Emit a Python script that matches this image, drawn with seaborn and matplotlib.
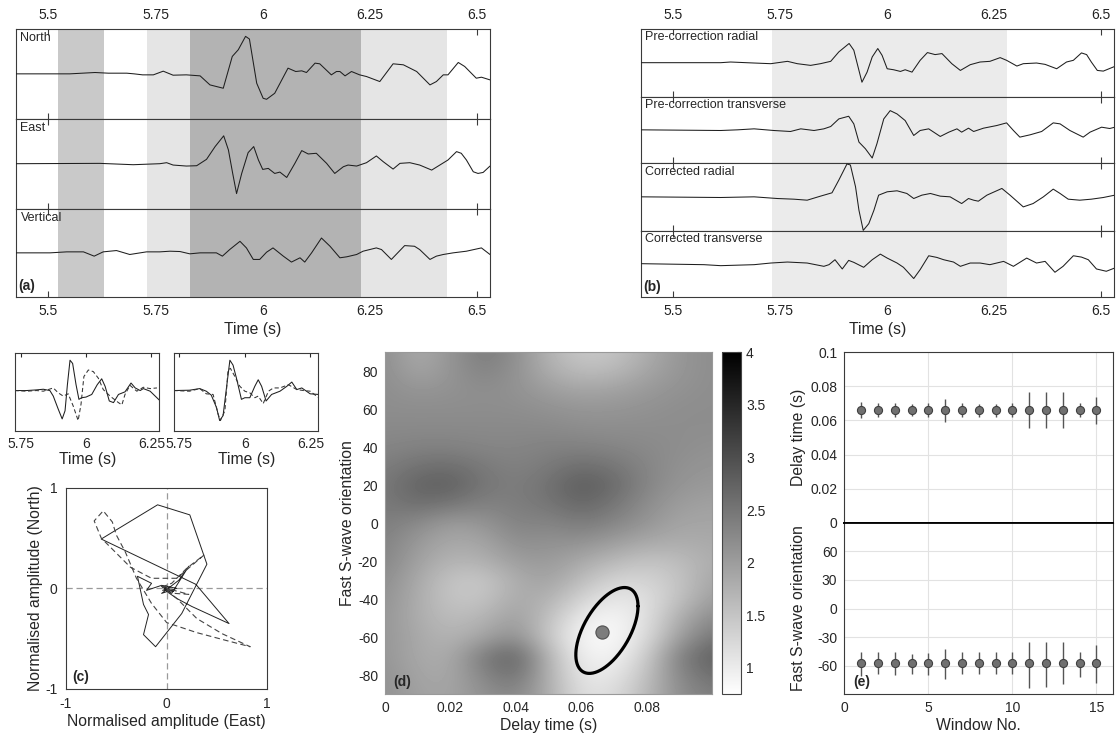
import numpy as np
import matplotlib
matplotlib.use("Agg")
import matplotlib.pyplot as plt
import seaborn as sns

# ------------------------------------------------------------------ data
# (a) three-component traces (time in s, amplitude in arbitrary units)
north_t = [5.424, 5.504, 5.55, 5.609, 5.64, 5.683, 5.70, 5.72, 5.745, 5.768, 5.791, 5.822, 5.854, 5.877, 5.908,
           5.929, 5.943, 5.960, 5.969, 5.986, 6.001, 6.009, 6.028, 6.059, 6.077, 6.091, 6.102, 6.122, 6.133, 6.160,
           6.172, 6.180, 6.192, 6.207, 6.226, 6.242, 6.273, 6.304, 6.328, 6.359, 6.390, 6.405, 6.421, 6.432, 6.456,
           6.471, 6.498, 6.510, 6.530]
north_a = [0, 0, 0, 4, 2, 2, 0, -3, -3, 8, -4, -3, -6, -33, -43, 52, 72, 112, 104, -28, -73, -76, -58, 17, 7, 9, 4,
           32, 30, -3, 7, 7, -6, 7, -3, -8, -23, 30, 27, 7, -33, -23, -3, -3, 34, 22, -13, -10, -18]
east_t = [5.424, 5.620, 5.698, 5.760, 5.776, 5.791, 5.822, 5.846, 5.869, 5.889, 5.909, 5.920, 5.930, 5.939, 5.951,
          5.966, 5.979, 5.990, 6.000, 6.013, 6.028, 6.040, 6.056, 6.075, 6.091, 6.106, 6.125, 6.149, 6.168, 6.188,
          6.199, 6.219, 6.242, 6.265, 6.281, 6.304, 6.320, 6.343, 6.366, 6.394, 6.413, 6.432, 6.452, 6.463, 6.475,
          6.491, 6.502, 6.514, 6.530]
east_a = [0, 1, -3, 0, 3, -4, -7, -6, 13, 51, 83, 41, -29, -89, -29, 33, 51, 11, -17, -14, -29, -25, -41, 1, 39, 29,
          31, 1, -29, -9, -4, -7, 3, 23, 6, -16, 1, 3, -4, -19, -4, 11, 36, 31, 11, -24, -29, -26, -7]
vert_t = [5.424, 5.504, 5.543, 5.582, 5.607, 5.628, 5.659, 5.690, 5.729, 5.760, 5.784, 5.807, 5.830, 5.854, 5.892,
          5.906, 5.923, 5.947, 5.962, 5.978, 5.993, 6.009, 6.024, 6.048, 6.067, 6.087, 6.098, 6.114, 6.137, 6.157,
          6.180, 6.196, 6.219, 6.234, 6.265, 6.277, 6.300, 6.331, 6.354, 6.366, 6.390, 6.405, 6.421, 6.444, 6.475,
          6.510, 6.530]
vert_a = [0, 0, 3, 3, -10, 3, 7, -5, 3, 3, 5, 4, -3, 0, 0, -10, 10, 35, 15, -20, -20, 2, 15, -10, -28, -15, -28, 0,
          45, 20, -15, -12, -5, 5, 15, 10, -20, 22, 20, 10, -20, -10, -5, 0, 5, 15, -5]

# window ranges shaded in (a) and (b)
a_win_start = [5.523, 5.730, 5.830, 6.230]
a_win_end = [5.630, 5.830, 6.230, 6.430]
b_win_start = [5.731]
b_win_end = [6.279]

# (b) radial / transverse traces before and after correction
prer_t = [5.426, 5.533, 5.611, 5.634, 5.689, 5.728, 5.767, 5.790, 5.821, 5.844, 5.868, 5.887, 5.911, 5.922, 5.931,
          5.941, 5.953, 5.965, 5.978, 5.988, 6.000, 6.015, 6.031, 6.042, 6.058, 6.077, 6.094, 6.112, 6.128, 6.151,
          6.171, 6.194, 6.217, 6.240, 6.264, 6.279, 6.303, 6.318, 6.349, 6.369, 6.396, 6.419, 6.435, 6.454, 6.466,
          6.477, 6.491, 6.505, 6.532]
prer_a = [0, 0, 0, 2, -1, -3, 4, -3, -8, -3, 4, 32, 57, 37, -8, -58, -28, 17, 42, 22, -18, -21, -26, -21, -28, 7, 30,
          24, 27, -3, -23, -6, 2, 4, 15, 7, -10, -3, -1, -5, -18, 2, 7, 29, 24, 2, -23, -25, -11]
pret_t = [5.426, 5.611, 5.650, 5.689, 5.735, 5.774, 5.798, 5.829, 5.852, 5.868, 5.887, 5.910, 5.922, 5.934, 5.949,
          5.965, 5.976, 5.992, 6.007, 6.023, 6.042, 6.062, 6.077, 6.097, 6.124, 6.144, 6.163, 6.174, 6.190, 6.202,
          6.225, 6.256, 6.279, 6.295, 6.310, 6.334, 6.361, 6.388, 6.404, 6.427, 6.458, 6.474, 6.501, 6.520, 6.532]
pret_a = [0, -2, 0, 3, -2, -5, 3, -2, 3, 10, 33, 41, 18, -37, -57, -85, -42, 33, 58, 48, 28, -17, -2, 3, -20, -7, 3,
          -7, 5, -5, 5, 13, 21, -2, -22, -15, -5, 21, 18, -2, -22, -7, 8, 4, 8]
corr_t = [5.426, 5.611, 5.689, 5.743, 5.782, 5.813, 5.844, 5.871, 5.887, 5.906, 5.914, 5.926, 5.934, 5.944, 5.957,
          5.969, 5.980, 6.000, 6.023, 6.046, 6.062, 6.081, 6.101, 6.124, 6.147, 6.174, 6.190, 6.202, 6.213, 6.233,
          6.268, 6.287, 6.318, 6.341, 6.365, 6.388, 6.404, 6.423, 6.450, 6.477, 6.505, 6.532]
corr_a = [0, -2, 0, -5, -7, -10, 2, 12, 50, 98, 95, 30, -40, -100, -80, -40, 5, 15, 18, 10, -5, 5, 10, 2, 0, -20, -5,
          -10, -13, 5, 25, 5, -30, -20, 0, 23, 10, -7, -10, -7, -2, 5]
cort_t = [5.426, 5.572, 5.611, 5.689, 5.728, 5.767, 5.813, 5.852, 5.864, 5.878, 5.895, 5.910, 5.922, 5.945, 5.965,
          5.984, 6.000, 6.023, 6.038, 6.062, 6.077, 6.097, 6.116, 6.132, 6.155, 6.171, 6.194, 6.217, 6.240, 6.272,
          6.295, 6.326, 6.349, 6.369, 6.392, 6.411, 6.435, 6.454, 6.470, 6.489, 6.512, 6.532]
cort_a = [0, -3, -6, -3, 2, 5, 2, -8, -3, 12, -16, 10, 4, -11, 12, 29, 17, 2, -11, -45, -18, 24, 19, 12, 5, -8, 2, 2,
          -3, 7, -8, 17, 2, 7, -26, -8, 24, 20, 12, -16, -23, -13]

# small panels: fast (solid) and slow (dashed) components, before / after correction
sl_t = [5.727, 5.773, 5.811, 5.837, 5.862, 5.875, 5.894, 5.909, 5.920, 5.929, 5.939, 5.949, 5.962, 5.973, 5.983,
        6.000, 6.022, 6.043, 6.060, 6.073, 6.089, 6.105, 6.124, 6.149, 6.172, 6.188, 6.207, 6.219, 6.245, 6.281]
sl_a = [0, 0, 2, 4, 0, -17, -57, -87, -62, 18, 93, 83, 18, -27, -22, -20, -12, 18, 36, 13, -32, -37, -12, -4, 23, 8,
        0, 6, -2, -30]
sld_t = [5.727, 5.773, 5.811, 5.837, 5.875, 5.894, 5.913, 5.932, 5.951, 5.970, 5.981, 5.992, 6.009, 6.028, 6.047,
         6.066, 6.092, 6.124, 6.137, 6.149, 6.168, 6.194, 6.219, 6.245, 6.271]
sld_a = [0, -2, 0, -2, 8, -7, -17, -10, -47, -92, -42, 43, 63, 58, 38, 3, -17, -37, -44, -12, 16, -2, 10, 6, 8]
sr_t = [5.728, 5.789, 5.828, 5.853, 5.872, 5.892, 5.904, 5.917, 5.930, 5.943, 5.955, 5.968, 5.987, 6.000, 6.019,
        6.038, 6.051, 6.064, 6.081, 6.102, 6.134, 6.160, 6.179, 6.198, 6.217, 6.249, 6.281]
sr_a = [0, 1, 6, -2, -14, -52, -92, -77, 8, 93, 78, 38, -27, -22, -22, 13, 33, 13, -32, -12, -2, 13, 26, 3, 8, -10, -12]
srd_t = [5.728, 5.789, 5.828, 5.853, 5.879, 5.898, 5.907, 5.924, 5.936, 5.945, 5.962, 5.981, 6.000, 6.019, 6.038,
         6.051, 6.070, 6.090, 6.109, 6.134, 6.166, 6.198, 6.224, 6.249, 6.281]
srd_a = [0, -2, 6, -10, -12, -72, -92, -62, 63, 68, 43, 13, -2, -7, -22, -17, -40, -2, 8, 8, 18, 3, 0, -2, -22]

# (c) particle motion (normalised East, North)
hodo_pre_e = [0.00, -0.03, 0.02, -0.04, 0.03, 0.00, 0.10, 0.25, 0.62, 0.29, -0.65, -0.09, 0.23, 0.40, 0.15, -0.11,
              -0.23, -0.18, -0.23, -0.29, -0.15, -0.20, -0.05, 0.10, -0.05, 0.12, 0.22, 0.05, -0.02, 0.07, -0.04]
hodo_pre_n = [0.00, 0.02, -0.01, -0.02, 0.01, -0.03, -0.10, -0.18, -0.35, 0.04, 0.49, 0.83, 0.73, 0.24, -0.25, -0.58,
              -0.46, -0.26, -0.16, 0.12, 0.05, -0.02, 0.03, 0.00, -0.05, 0.08, 0.22, -0.05, 0.00, -0.03, 0.01]
hodo_cor_e = [0.00, 0.03, -0.03, 0.05, 0.20, 0.37, 0.10, -0.15, -0.36, -0.51, -0.65, -0.72, -0.63, -0.54, -0.50,
              -0.41, -0.30, -0.15, 0.00, 0.30, 0.60, 0.83, 0.55, 0.30, 0.10, -0.05, 0.08, 0.22, 0.00]
hodo_cor_n = [0.00, -0.02, 0.02, 0.05, 0.20, 0.33, 0.10, 0.10, 0.21, 0.36, 0.50, 0.67, 0.77, 0.66, 0.53, 0.36, 0.10,
              -0.15, -0.34, -0.44, -0.52, -0.58, -0.45, -0.30, -0.10, 0.02, -0.05, -0.06, 0.00]

# (d) misfit surface: rows = orientation 90 .. -90 (step 10), cols = delay 0 .. 0.1 s (step 0.01)
grid_dt = [0.0, 0.01, 0.02, 0.03, 0.04, 0.05, 0.06, 0.07, 0.08, 0.09, 0.10]
grid_phi = [90, 80, 70, 60, 50, 40, 30, 20, 10, 0, -10, -20, -30, -40, -50, -60, -70, -80, -90]
misfit = [
    [2.20, 1.80, 2.10, 2.45, 2.20, 1.70, 1.45, 1.50, 1.80, 2.10, 2.20],
    [2.20, 1.90, 2.10, 2.35, 2.15, 1.80, 1.60, 1.65, 1.90, 2.10, 2.20],
    [2.20, 2.10, 2.15, 2.20, 2.15, 2.00, 1.90, 1.95, 2.05, 2.15, 2.20],
    [2.20, 2.20, 2.20, 2.20, 2.20, 2.15, 2.10, 2.10, 2.15, 2.20, 2.20],
    [2.25, 2.25, 2.25, 2.25, 2.25, 2.25, 2.20, 2.20, 2.20, 2.20, 2.20],
    [2.30, 2.35, 2.35, 2.30, 2.30, 2.35, 2.35, 2.30, 2.25, 2.20, 2.15],
    [2.40, 2.55, 2.60, 2.45, 2.35, 2.45, 2.60, 2.50, 2.30, 2.15, 2.10],
    [2.45, 2.75, 2.80, 2.50, 2.40, 2.55, 2.85, 2.65, 2.30, 2.10, 2.05],
    [2.45, 2.60, 2.50, 2.35, 2.40, 2.50, 2.70, 2.50, 2.20, 2.00, 1.95],
    [2.40, 2.25, 2.00, 2.10, 2.35, 2.30, 2.45, 2.30, 2.10, 1.90, 1.90],
    [2.35, 2.05, 1.85, 1.90, 2.20, 2.15, 2.15, 2.00, 1.85, 1.80, 1.85],
    [2.30, 1.95, 1.70, 1.75, 2.00, 2.05, 1.85, 1.65, 1.50, 1.60, 1.80],
    [2.20, 1.85, 1.50, 1.45, 1.80, 1.95, 1.60, 1.30, 1.30, 1.50, 1.90],
    [2.15, 1.80, 1.50, 1.50, 1.85, 1.75, 1.30, 1.05, 1.15, 1.55, 2.00],
    [2.10, 1.80, 1.60, 1.70, 2.00, 1.55, 1.00, 0.85, 1.15, 1.80, 2.25],
    [2.10, 1.85, 1.70, 1.90, 2.20, 1.45, 0.85, 0.82, 1.20, 2.00, 2.50],
    [2.10, 1.85, 1.80, 2.45, 2.80, 1.70, 0.95, 0.90, 1.40, 2.40, 2.80],
    [2.15, 1.90, 1.85, 2.30, 2.60, 1.75, 1.05, 1.05, 1.55, 2.30, 2.60],
    [2.15, 1.95, 1.90, 2.15, 2.30, 1.80, 1.15, 1.20, 1.65, 2.20, 2.40],
]
best_dt, best_phi = 0.0663, -57.3
# confidence region: centre, half-extents and phase offset of the closed contour
conf_dt, conf_phi = 0.0678, -56.4
conf_half_dt, conf_half_phi, conf_phase = 0.0095, 22.6, 0.97

# (e) results for each analysis window
window_no = [1, 2, 3, 4, 5, 6, 7, 8, 9, 10, 11, 12, 13, 14, 15]
delay = [0.066, 0.066, 0.066, 0.066, 0.066, 0.066, 0.066, 0.066, 0.066, 0.066, 0.066, 0.066, 0.066, 0.066, 0.066]
delay_lo = [0.0613, 0.0620, 0.0620, 0.0626, 0.0620, 0.0593, 0.0620, 0.0620, 0.0620, 0.0620, 0.0554, 0.0554, 0.0554,
            0.0620, 0.0579]
delay_hi = [0.0708, 0.0700, 0.0700, 0.0695, 0.0700, 0.0726, 0.0700, 0.0695, 0.0695, 0.0700, 0.0765, 0.0765, 0.0765,
            0.0700, 0.0738]
fast = [-57.5, -57, -57, -57.5, -57.5, -57.5, -57, -57, -57, -57, -57.5, -57.5, -57, -57.5, -57.5]
fast_lo = [-71, -69, -70, -69, -70, -74, -69, -69, -69, -69, -83, -82.6, -79.4, -71.6, -78]
fast_hi = [-46, -46, -45.5, -47.6, -47, -42.7, -45.5, -46, -45.5, -45.5, -35, -35, -35, -45.5, -38.5]

# ------------------------------------------------------------------ style
sns.set_style("white")
plt.rcParams["font.family"] = ["Liberation Sans", "DejaVu Sans"]
plt.rcParams["axes.unicode_minus"] = False
plt.rcParams["axes.edgecolor"] = "#3a3a3a"
plt.rcParams["axes.linewidth"] = 0.8

W, H = 1117, 736
fig = plt.figure(figsize=(W / 100, H / 100), dpi=100)


def rect(x0, y0, x1, y1):
    return [x0 / W, 1 - y1 / H, (x1 - x0) / W, (y1 - y0) / H]


TRACE = "#1e1e1e"
TICK_FS = 10
LAB_FS = 11.3
TXT_FS = 9
XLIM_TOP = (5.424, 6.53)
XT_TOP = [5.5, 5.75, 6, 6.25, 6.5]
XT_TOP_LAB = ["5.5", "5.75", "6", "6.25", "6.5"]


def trace_axes(box, t, a, label, spans, ylim, first, last):
    ax = fig.add_axes(rect(*box))
    for (s, e, c) in spans:
        ax.axvspan(s, e, color=c, lw=0, zorder=1)
    sns.lineplot(x=t, y=a, ax=ax, color=TRACE, linewidth=0.75, estimator=None, sort=False, zorder=3)
    ax.set_xlim(*XLIM_TOP)
    ax.set_ylim(*ylim)
    ax.set_yticks([])
    ax.set_xticks(XT_TOP)
    ax.set_xticklabels(XT_TOP_LAB)
    ax.set_axisbelow(True)
    ax.tick_params(axis="x", direction="in", length=4, width=0.8, top=True, bottom=True,
                   labeltop=first, labelbottom=last, labelsize=TICK_FS, pad=5, colors="#3a3a3a",
                   labelcolor="#222222")
    ax.text(0.01, 0.965, label, transform=ax.transAxes, ha="left", va="top", fontsize=TXT_FS, zorder=5)
    return ax


# ---- (a)
a_cols = ["#c9c9c9", "#e5e5e5", "#b3b3b3", "#e5e5e5"]
a_spans = list(zip(a_win_start, a_win_end, a_cols))
a_boxes = [(15.7, 29, 490, 118.7), (15.7, 118.7, 490, 208.7), (15.7, 208.7, 490, 297)]
a_traces = [(north_t, north_a, "North"), (east_t, east_a, "East"), (vert_t, vert_a, "Vertical")]
for i, (box, (t, a, lab)) in enumerate(zip(a_boxes, a_traces)):
    ax = trace_axes(box, t, a, lab, a_spans, (-134, 134), i == 0, i == 2)
    if i == 2:
        ax.set_xlabel("Time (s)", fontsize=LAB_FS, labelpad=3)
        ax.text(0.006, 0.04, "(a)", transform=ax.transAxes, fontsize=10, fontweight="bold",
                ha="left", va="bottom", zorder=5)

# ---- (b)
b_spans = [(s, e, "#ebebeb") for s, e in zip(b_win_start, b_win_end)]
b_boxes = [(640.7, 29, 1114, 96.7), (640.7, 96.7, 1114, 163.3), (640.7, 163.3, 1114, 230.7),
           (640.7, 230.7, 1114, 297)]
b_traces = [(prer_t, prer_a, "Pre-correction radial"), (pret_t, pret_a, "Pre-correction transverse"),
            (corr_t, corr_a, "Corrected radial"), (cort_t, cort_a, "Corrected transverse")]
for i, (box, (t, a, lab)) in enumerate(zip(b_boxes, b_traces)):
    ax = trace_axes(box, t, a, lab, b_spans, (-101, 100), i == 0, i == 3)
    if i == 3:
        ax.set_xlabel("Time (s)", fontsize=LAB_FS, labelpad=3)
        ax.text(0.006, 0.05, "(b)", transform=ax.transAxes, fontsize=10, fontweight="bold",
                ha="left", va="bottom", zorder=5)

# ---- small panels
for box, (t1, a1, t2, a2) in [((15.3, 352.7, 159.3, 431), (sl_t, sl_a, sld_t, sld_a)),
                              ((174, 352.7, 318.3, 431), (sr_t, sr_a, srd_t, srd_a))]:
    ax = fig.add_axes(rect(*box))
    sns.lineplot(x=t1, y=a1, ax=ax, color=TRACE, linewidth=0.75, estimator=None, sort=False)
    ax.plot(t2, a2, color="#333333", linewidth=0.75, linestyle=(0, (4, 2.5)))
    ax.set_xlim(5.73, 6.28)
    ax.set_ylim(-124, 116)
    ax.set_yticks([])
    ax.set_xticks([5.75, 6, 6.25])
    ax.set_xticklabels(["5.75", "6", "6.25"])
    ax.tick_params(axis="x", direction="in", length=3, top=True, labelsize=TICK_FS, pad=4)
    ax.set_xlabel("Time (s)", fontsize=LAB_FS, labelpad=1)

# ---- (c) hodogram
axc = fig.add_axes(rect(66, 487.7, 267.3, 689))
axc.axhline(0, color="#9a9a9a", lw=0.9, ls=(0, (5, 3)), zorder=1)
axc.axvline(0, color="#9a9a9a", lw=0.9, ls=(0, (5, 3)), zorder=1)
sns.lineplot(x=hodo_pre_e, y=hodo_pre_n, ax=axc, color="#222222", linewidth=0.7, estimator=None, sort=False, zorder=3)
axc.plot(hodo_cor_e, hodo_cor_n, color="#444444", linewidth=0.8, linestyle=(0, (5, 3)), zorder=3)
axc.set_xlim(-1, 1)
axc.set_ylim(-1, 1)
axc.set_xticks([-1, 0, 1])
axc.set_xticklabels(["-1", "0", "1"])
axc.set_yticks([-1, 0, 1])
axc.set_yticklabels(["-1", "0", "1"])
axc.tick_params(length=0, labelsize=TICK_FS, pad=6)
axc.set_xlabel("Normalised amplitude (East)", fontsize=LAB_FS, labelpad=2)
axc.set_ylabel("Normalised amplitude (North)", fontsize=LAB_FS, labelpad=2)
axc.text(0.03, 0.025, "(c)", transform=axc.transAxes, fontsize=10, fontweight="bold", ha="left", va="bottom")

# ---- (d) misfit surface
axd = fig.add_axes(rect(385, 352.3, 712.3, 694.3))
ddt = grid_dt[1] - grid_dt[0]
dph = grid_phi[0] - grid_phi[1]
im = axd.imshow(np.array(misfit), cmap="gray_r", vmin=0.75, vmax=4.0, aspect="auto", interpolation="bicubic",
                origin="upper",
                extent=(grid_dt[0] - ddt / 2, grid_dt[-1] + ddt / 2, grid_phi[-1] - dph / 2, grid_phi[0] + dph / 2))
tt = np.linspace(0, 2 * np.pi, 300)
axd.plot(conf_dt + conf_half_dt * np.cos(tt), conf_phi + conf_half_phi * np.cos(tt - conf_phase),
         color="black", lw=2.3, zorder=4)
axd.scatter([best_dt], [best_phi], s=90, color="#7d7d7d", edgecolor="#505050", linewidth=0.8, zorder=5)
axd.set_xlim(0, 0.1)
axd.set_ylim(-90, 90)
axd.set_xticks([0, 0.02, 0.04, 0.06, 0.08])
axd.set_xticklabels(["0", "0.02", "0.04", "0.06", "0.08"])
axd.set_yticks([-80, -60, -40, -20, 0, 20, 40, 60, 80])
axd.set_yticklabels(["-80", "-60", "-40", "-20", "0", "20", "40", "60", "80"])
axd.tick_params(direction="in", length=3, labelsize=TICK_FS, pad=5)
axd.set_xlabel("Delay time (s)", fontsize=LAB_FS, labelpad=2)
axd.set_ylabel("Fast S-wave orientation", fontsize=LAB_FS, labelpad=2)
for sp in axd.spines.values():
    sp.set_edgecolor("#999999")
axd.text(0.025, 0.015, "(d)", transform=axd.transAxes, fontsize=10, fontweight="bold", ha="left", va="bottom")

cax = fig.add_axes(rect(722.3, 352.3, 740.5, 694.3))
cb = fig.colorbar(im, cax=cax, ticks=[1, 1.5, 2, 2.5, 3, 3.5, 4])
cb.ax.set_yticklabels(["1", "1.5", "2", "2.5", "3", "3.5", "4"])
cb.ax.tick_params(direction="in", length=3, labelsize=TICK_FS, pad=4)
cb.outline.set_edgecolor("#444444")
cb.outline.set_linewidth(0.8)

# ---- (e) window results
GRID_C = "#e2e2e2"
axe1 = fig.add_axes(rect(844.3, 352.3, 1113.3, 522.7))
axe2 = fig.add_axes(rect(844.3, 522.7, 1113.3, 694.3))
for ax in (axe1, axe2):
    ax.set_axisbelow(True)
    ax.grid(True, color=GRID_C, lw=0.8)
    ax.set_xlim(0, 16)
    ax.set_xticks([0, 5, 10, 15])
    ax.tick_params(direction="in", length=3, labelsize=TICK_FS, pad=5)

axe1.vlines(window_no, delay_lo, delay_hi, color="#555555", lw=1.0, zorder=3)
sns.scatterplot(x=window_no, y=delay, ax=axe1, s=34, color="#707070", edgecolor="#404040", linewidth=0.8, zorder=4)
axe1.set_ylim(0, 0.1)
axe1.set_yticks([0, 0.02, 0.04, 0.06, 0.08, 0.1])
axe1.set_yticklabels(["0", "0.02", "0.04", "0.06", "0.08", "0.1"])
axe1.tick_params(labelbottom=False)
axe1.set_ylabel("Delay time (s)", fontsize=LAB_FS, labelpad=3)
axe1.spines["bottom"].set_color("black")
axe1.spines["bottom"].set_linewidth(1.3)

axe2.vlines(window_no, fast_lo, fast_hi, color="#555555", lw=1.0, zorder=3)
sns.scatterplot(x=window_no, y=fast, ax=axe2, s=34, color="#707070", edgecolor="#404040", linewidth=0.8, zorder=4)
axe2.set_ylim(-90, 90)
axe2.set_yticks([-60, -30, 0, 30, 60])
axe2.set_yticklabels(["-60", "-30", "0", "30", "60"])
axe2.set_xticklabels(["0", "5", "10", "15"])
axe2.set_xlabel("Window No.", fontsize=LAB_FS, labelpad=2)
axe2.set_ylabel("Fast S-wave orientation", fontsize=LAB_FS, labelpad=8)
axe2.spines["top"].set_color("black")
axe2.spines["top"].set_linewidth(1.3)
axe2.text(0.035, 0.03, "(e)", transform=axe2.transAxes, fontsize=10, fontweight="bold", ha="left", va="bottom")

fig.savefig("out.png", dpi=100)
